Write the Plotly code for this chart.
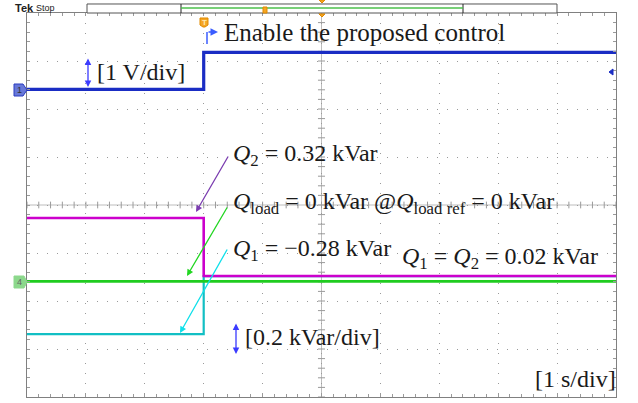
import plotly.graph_objects as go

# time axis: 1 s/div, 10 divisions on screen
time_s = [0.0, 3.0, 3.0, 10.0]

# screen positions of the traces, in vertical divisions from centre
enable_div = [2.41, 2.41, 3.18, 3.18]      # ch1, 1 V/div
q2_div = [-0.27, -0.27, -1.48, -1.48]      # Q2, 0.2 kVar/div
qload_div = [-1.59, -1.59, -1.59, -1.59]   # Q_load
q1_div = [-2.69, -2.69, -1.48, -1.48]      # Q1

# plot area in pixels (for placing the labels like on the scope picture)
L, R, T, B = 27, 616, 13, 397
W, H = 638, 403


def X(px):  # pixel -> data x (seconds)
    return (px - L) / (R - L) * 10


def Y(py):  # pixel -> data y (divisions)
    return (205 - py) / ((B - T) / 8)


def PX(px):  # pixel -> paper x
    return (px - L) / (R - L)


def PY(py):  # pixel -> paper y
    return (B - py) / (B - T)


fig = go.Figure()

fig.add_trace(go.Scatter(x=time_s, y=q1_div, mode='lines', name='Q1',
                         line=dict(color='#12bfc4', width=2.2)))
fig.add_trace(go.Scatter(x=time_s, y=qload_div, mode='lines', name='Qload',
                         line=dict(color='#1fcc1f', width=2.8)))
fig.add_trace(go.Scatter(x=time_s, y=q2_div, mode='lines', name='Q2',
                         line=dict(color='#cc00cc', width=2.6)))
fig.add_trace(go.Scatter(x=time_s, y=enable_div, mode='lines', name='Enable',
                         line=dict(color='#1a2dc4', width=3.2)))

grid = '#9a9a9a'
frame = '#808080'

axis_common = dict(showticklabels=False, zeroline=False, showline=True,
                   linecolor=frame, linewidth=1, mirror='ticks',
                   ticks='inside', ticklen=3, tickcolor=grid,
                   showgrid=True, gridcolor=grid, griddash='1px,9px',
                   gridwidth=1, fixedrange=True, automargin=False)

fig.update_layout(
    width=W, height=H,
    margin=dict(l=L, r=W - R, t=T, b=H - B, autoexpand=False),
    paper_bgcolor='white', plot_bgcolor='white',
    showlegend=False,
    xaxis=dict(range=[0, 10], dtick=1,
               minor=dict(dtick=0.2, ticks='inside', ticklen=3,
                          tickcolor=grid, showgrid=False),
               **axis_common),
    yaxis=dict(range=[-4, 4], dtick=1,
               minor=dict(dtick=0.2, ticks='inside', ticklen=3,
                          tickcolor=grid, showgrid=False),
               **axis_common),
)

serif = dict(family='Liberation Serif', size=24, color='#1a1a1a')
blue_arrow = '#3b3bff'

ann = []


def text(px, py, s, size=24):
    ann.append(dict(x=X(px), y=Y(py), xref='x', yref='y', text=s,
                    showarrow=False, xanchor='left', yanchor='middle',
                    font=dict(serif, size=size)))


def arrow(x0, y0, x1, y1, color, width=1.3, both=False):
    ann.append(dict(x=X(x1), y=Y(y1), ax=X(x0), ay=Y(y0), xref='x', yref='y',
                    axref='x', ayref='y', text='', showarrow=True,
                    arrowhead=2, startarrowhead=2, arrowsize=1,
                    startarrowsize=1, arrowwidth=width, arrowcolor=color,
                    arrowside='end+start' if both else 'end', standoff=0,
                    startstandoff=0))


def small(px, py, s, size, color, bold=False):
    ann.append(dict(x=PX(px), y=PY(py), xref='paper', yref='paper',
                    text=f'<b>{s}</b>' if bold else s, showarrow=False,
                    xanchor='center', yanchor='middle',
                    font=dict(family='Liberation Sans', size=size, color=color)))


text(222, 32, 'Enable the proposed control', size=25)
text(95, 72, '[1 V/div]')
text(231, 155, '<i>Q</i><sub>2</sub> = 0.32 kVar')
text(231, 203, '<i>Q</i><sub>load</sub> = 0 kVar @<i>Q</i><sub>load ref</sub> = 0 kVar')
text(231, 250, '<i>Q</i><sub>1</sub> = \u22120.28 kVar')
text(400, 258, '<i>Q</i><sub>1</sub> = <i>Q</i><sub>2</sub> = 0.02 kVar')
text(243, 337, '[0.2 kVar/div]')
text(533, 379, '[1 s/div]')

arrow(229, 155, 196, 212, '#7b3db0')
arrow(228, 206, 187, 276, '#22d622')
arrow(228, 248, 180, 333, '#10e0ea')
arrow(88, 57, 88, 87, blue_arrow, both=True)
arrow(236, 322, 236, 354, blue_arrow, both=True)
arrow(207, 32, 218, 32, '#3a5cff', width=1.5)

# Tek header
small(24, 8, 'Tek', 11, '#222', bold=True)
small(45, 8, 'Stop', 9, '#222')

# channel markers and trigger marker labels
small(19, 90, '1', 9, '#333')
small(19, 282, '4', 9, '#666')
small(204, 22, 'T', 8, '#ffe9b0', bold=True)

fig.update_layout(annotations=ann)

shapes = []


def pline(x0, y0, x1, y1, color, width=1, dash='solid'):
    shapes.append(dict(type='line', xref='paper', yref='paper',
                       x0=PX(x0), y0=PY(y0), x1=PX(x1), y1=PY(y1),
                       line=dict(color=color, width=width, dash=dash)))


def ppath(pts, fill, line):
    d = 'M ' + ' L '.join(f'{PX(a):.5f},{PY(b):.5f}' for a, b in pts) + ' Z'
    shapes.append(dict(type='path', xref='paper', yref='paper', path=d,
                       fillcolor=fill, line=dict(color=line, width=1)))


# graticule centre cross with its fine ticks (5 per division)
centre = '#bdbdbd'
shapes.append(dict(type='line', xref='x', yref='y', x0=0, x1=10, y0=0, y1=0,
                   layer='below', line=dict(color=centre, width=1)))
shapes.append(dict(type='line', xref='x', yref='y', x0=5, x1=5, y0=-4, y1=4,
                   layer='below', line=dict(color=centre, width=1)))
for k in range(51):
    shapes.append(dict(type='line', xref='x', yref='y', x0=k * 0.2, x1=k * 0.2,
                       y0=-0.07, y1=0.07, layer='below',
                       line=dict(color=grid, width=1)))
for k in range(41):
    shapes.append(dict(type='line', xref='x', yref='y', x0=4.94, x1=5.06,
                       y0=-4 + k * 0.2, y1=-4 + k * 0.2, layer='below',
                       line=dict(color=grid, width=1)))

# record bar at the top
ppath([(87, 4), (557, 4), (557, 13), (87, 13)], 'white', '#555')
pline(181, 4, 181, 13, '#222')
pline(463, 4, 463, 13, '#222')
pline(181, 8, 463, 8, '#4cc04c', width=1.5)
ppath([(263, 7), (267, 7), (267, 13), (263, 13)], '#f5a623', '#e08a00')
ppath([(319, 0), (325, 0), (322, 3)], '#f5a623', '#e08a00')
ppath([(319, 14), (325, 14), (322, 17)], '#f5a623', '#e08a00')

# trigger T marker
ppath([(200, 18), (208, 18), (208, 25), (205, 27), (203, 27), (200, 25)],
      '#f5a623', '#e08a00')

# enable arrow stem
pline(207, 44, 207, 32, '#3a5cff', width=1.5)

# channel markers on the left
ppath([(14, 84), (23, 84), (27, 90), (23, 96), (14, 96)], '#6878d8', '#2a3cc0')
ppath([(14, 276), (24, 276), (27, 282), (24, 288), (14, 288)], '#8cd88c', '#8cd88c')

# ch1 reference arrow on the right
ppath([(609, 72), (613, 69), (613, 75)], '#1a2dc4', '#1a2dc4')

fig.update_layout(shapes=shapes)

# drop the default page margin so the figure sits at the window's corner
fig.write_html("out.html", config={'displayModeBar': False},
               post_script="document.body.style.margin='0';")
